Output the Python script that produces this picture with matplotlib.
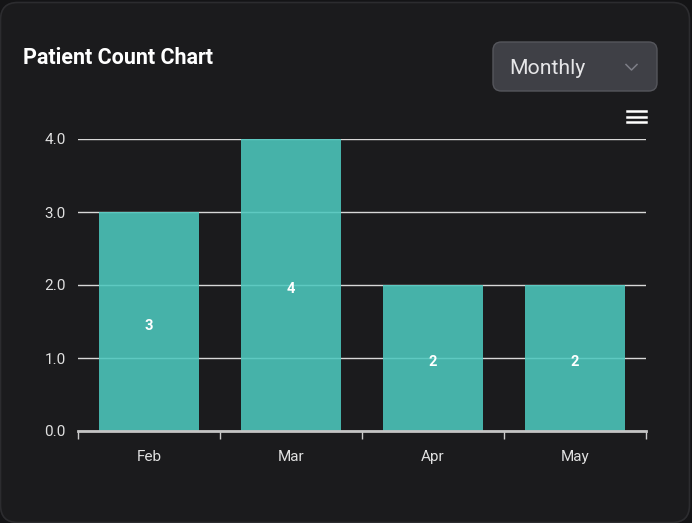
import matplotlib
matplotlib.use("Agg")
import matplotlib.pyplot as plt
from matplotlib.patches import FancyBboxPatch
import numpy as np

months = ["Feb", "Mar", "Apr", "May"]
patients = [3, 4, 2, 2]
y_ticks = [0.0, 1.0, 2.0, 3.0, 4.0]

bg = "#1b1b1d"
bar_color = "#4dc8be"

plt.rcParams["font.family"] = ["Roboto", "DejaVu Sans"]

W, H = 692, 523
fig = plt.figure(figsize=(W / 100, H / 100), dpi=100)
fig.patch.set_facecolor("#141416")

# card background
card = FancyBboxPatch((0.5 / W, 0.5 / H), (W - 3) / W, (H - 3) / H,
                      boxstyle="round,pad=0,rounding_size=0.025",
                      transform=fig.transFigure, facecolor=bg,
                      edgecolor="#2c2c2f", linewidth=1.2, mutation_aspect=W / H,
                      zorder=-5)
fig.patches.append(card)

fig.text(23 / W, 1 - 58 / H, "Patient Count Chart", color="white",
         fontsize=15.5, fontweight="bold", va="center", ha="left")

# dropdown
dd = FancyBboxPatch((493 / W, 1 - 91 / H), 164 / W, 49 / H,
                    boxstyle="round,pad=0,rounding_size=0.012",
                    transform=fig.transFigure, facecolor="#3f4046",
                    edgecolor="#55565c", linewidth=1, mutation_aspect=W / H,
                    zorder=-4)
fig.patches.append(dd)
fig.text(509 / W, 1 - 68.5 / H, "Monthly", color="#e6e6e8", fontsize=15.3,
         va="center", ha="left")
fig.lines.append(plt.Line2D([626 / W, 631.5 / W, 637 / W],
                            [1 - 64.5 / H, 1 - 70 / H, 1 - 64.5 / H],
                            transform=fig.transFigure, color="#7d7e86", lw=1.1))

# hamburger menu
for yy in (111, 116.5, 122):
    fig.lines.append(plt.Line2D([627 / W, 646 / W], [1 - yy / H, 1 - yy / H],
                                transform=fig.transFigure, color="white", lw=1.8))

ax = fig.add_axes([78 / W, 1 - 431 / H, 568 / W, 292 / H])
ax.set_facecolor(bg)
x = np.arange(len(months))
bars = ax.bar(x, patients, width=0.7, color=bar_color, alpha=0.88, zorder=2)
for xi, v in zip(x, patients):
    ax.annotate(str(v), (xi, v / 2), xytext=(0, -3), textcoords="offset points",
                color="white", fontsize=10.5, fontweight="bold",
                ha="center", va="center", zorder=4)

ax.set_xlim(-0.5, len(months) - 0.5)
ax.set_ylim(0, 4)
ax.set_yticks(y_ticks)
ax.set_yticklabels([f"{t:.1f}" for t in y_ticks], color="#e0e0e0", fontsize=11)
ax.grid(axis="y", color="#d8d8d8", linewidth=1, zorder=1)
ax.tick_params(axis="y", length=0, pad=9)

ax.set_xticks(x)
ax.set_xticklabels(months, color="#e0e0e0", fontsize=11)
ax.set_xticks(np.arange(-0.5, len(months)), minor=True)
ax.tick_params(axis="x", which="major", length=0, pad=14)
ax.tick_params(axis="x", which="minor", length=6, width=1, color="#cccccc",
               direction="out")

for s in ("top", "right", "left"):
    ax.spines[s].set_visible(False)
ax.spines["bottom"].set_color("#c4c4c4")
ax.spines["bottom"].set_linewidth(2)
ax.spines["bottom"].set_zorder(5)

fig.savefig("out.png", dpi=100, facecolor=fig.get_facecolor())
